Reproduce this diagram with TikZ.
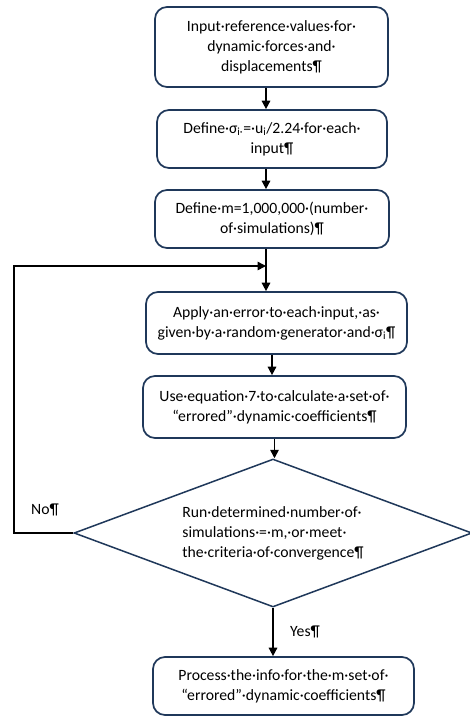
\documentclass[tikz,border=0pt]{standalone}
\usepackage{fontspec}
\setmainfont{Carlito}
\usetikzlibrary{arrows.meta,shapes.geometric}
\definecolor{navy}{RGB}{31,56,90}
\begin{document}
\begin{tikzpicture}[x=1pt,y=-1pt,
  txt/.style={font=\fontsize{15.7}{20}\selectfont},
  box/.style={txt, draw=navy, line width=1.7pt, rounded corners=12pt, align=center, inner sep=0pt},
  dec/.style={txt, draw=navy, line width=1.5pt, shape=diamond, aspect=2.69, align=left, inner sep=0pt},
  arr/.style={line width=1.6pt, -{Triangle[length=8.5pt,width=8.5pt]}}]
\useasboundingbox (0,0) rectangle (470,717);
\fill[white] (0,0) rectangle (470,717);
\node[box, minimum width=233, minimum height=80] (b1) at (271.5,47) {Input·reference·values·for·\\dynamic·forces·and·\\displacements¶};
\node[box, minimum width=230, minimum height=58] (b2) at (272,139) {Define·σ\textsubscript{i·}=·u\textsubscript{i}/2.24·for·each·\\input¶};
\node[box, minimum width=234, minimum height=58] (b3) at (272,219) {Define·m=1,000,000·(number·\\of·simulations)¶};
\node[box, minimum width=261, minimum height=62] (b4) at (276.5,323) {Apply·an·error·to·each·input,·as·\\given·by·a·random·generator·and·σ\textsubscript{i}¶};
\node[box, minimum width=263, minimum height=62] (b5) at (274.5,407) {Use·equation·7·to·calculate·a·set·of·\\“errored”·dynamic·coefficients¶};
\node[dec, minimum width=398, minimum height=148] (d) at (273,533) {Run·determined·number·of·\\simulations·=·m,·or·meet·\\the·criteria·of·convergence¶};
\node[box, minimum width=261, minimum height=58] (b6) at (283.5,686) {Process·the·info·for·the·m·set·of·\\“errored”·dynamic·coefficients¶};
\node[txt] (no) at (45,510) {No¶};
\node[txt] (yes) at (305,632) {Yes¶};
\coordinate (ax) at (266,0);
\coordinate (bx) at (272,0);
\coordinate (j) at (266,266);
\coordinate (fl) at (14,266);
\draw[arr] (ax |- b1.south) -- (ax |- b2.north);
\draw[arr] (ax |- b2.south) -- (ax |- b3.north);
\draw[arr] (ax |- b3.south) -- (ax |- b4.north);
\draw[arr] (bx |- b4.south) -- (bx |- b5.north);
\draw[arr] (b5.south) -- (b5.south |- d.north);
\draw[arr] (d.south) -- (d.south |- b6.north);
\draw[arr] (d.west) -| (fl) -- (j);
\end{tikzpicture}
\end{document}
